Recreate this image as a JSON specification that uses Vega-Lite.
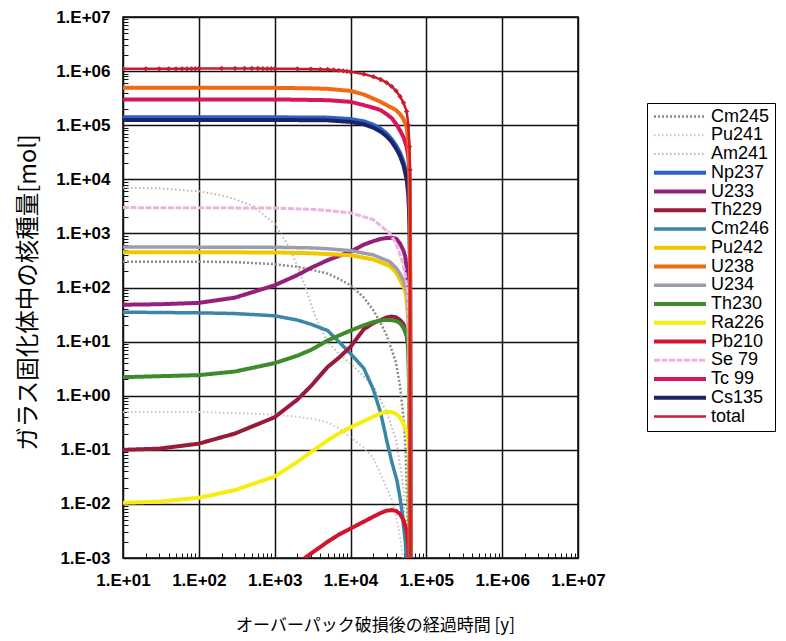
{
  "$schema": "https://vega.github.io/schema/vega-lite/v6.json",
  "width": 455,
  "height": 541,
  "autosize": {"type": "none"},
  "padding": {"left": 123, "top": 17, "right": 208, "bottom": 83},
  "background": "white",
  "config": {
    "view": {"stroke": "#000", "strokeWidth": 1.5},
    "font": "Liberation Sans"
  },
  "data": {
    "values": [
      {"s":"Cm245","t":10,"v":300},{"s":"Cm245","t":100,"v":300},{"s":"Cm245","t":300,"v":295},{"s":"Cm245","t":1000,"v":270},{"s":"Cm245","t":2000,"v":240},{"s":"Cm245","t":3000,"v":215},{"s":"Cm245","t":5000,"v":180},{"s":"Cm245","t":7000,"v":145},{"s":"Cm245","t":10000,"v":110},{"s":"Cm245","t":15000,"v":65},{"s":"Cm245","t":20000,"v":38},{"s":"Cm245","t":25000,"v":22},{"s":"Cm245","t":30000,"v":13},{"s":"Cm245","t":35000,"v":7},{"s":"Cm245","t":40000,"v":4},{"s":"Cm245","t":45000,"v":1.5},{"s":"Cm245","t":50000,"v":0.4},{"s":"Cm245","t":53000,"v":0.11},{"s":"Cm245","t":56000,"v":0.01},{"s":"Cm245","t":58000,"v":0.0001},
      {"s":"Pu241","t":10,"v":0.5},{"s":"Pu241","t":100,"v":0.5},{"s":"Pu241","t":1000,"v":0.45},{"s":"Pu241","t":3000,"v":0.38},{"s":"Pu241","t":5000,"v":0.32},{"s":"Pu241","t":7000,"v":0.25},{"s":"Pu241","t":10000,"v":0.17},{"s":"Pu241","t":15000,"v":0.11},{"s":"Pu241","t":20000,"v":0.07},{"s":"Pu241","t":27000,"v":0.028},{"s":"Pu241","t":35000,"v":0.012},{"s":"Pu241","t":41000,"v":0.005},{"s":"Pu241","t":46000,"v":0.002},{"s":"Pu241","t":50000,"v":0.0008},{"s":"Pu241","t":53000,"v":0.0001},
      {"s":"Am241","t":10,"v":7000},{"s":"Am241","t":30,"v":6800},{"s":"Am241","t":100,"v":6000},{"s":"Am241","t":200,"v":5000},{"s":"Am241","t":300,"v":4300},{"s":"Am241","t":500,"v":3300},{"s":"Am241","t":1000,"v":1500},{"s":"Am241","t":1500,"v":600},{"s":"Am241","t":2000,"v":250},{"s":"Am241","t":2500,"v":110},{"s":"Am241","t":3000,"v":50},{"s":"Am241","t":3500,"v":28},{"s":"Am241","t":4000,"v":18},{"s":"Am241","t":5000,"v":10},{"s":"Am241","t":7000,"v":6},{"s":"Am241","t":10000,"v":4},{"s":"Am241","t":20000,"v":1.5},{"s":"Am241","t":30000,"v":0.5},{"s":"Am241","t":40000,"v":0.15},{"s":"Am241","t":50000,"v":0.02},{"s":"Am241","t":55000,"v":0.0001},
      {"s":"Cm246","t":10,"v":35},{"s":"Cm246","t":100,"v":34},{"s":"Cm246","t":300,"v":33},{"s":"Cm246","t":1000,"v":30},{"s":"Cm246","t":2000,"v":25},{"s":"Cm246","t":3000,"v":21},{"s":"Cm246","t":5000,"v":16},{"s":"Cm246","t":7000,"v":10},{"s":"Cm246","t":10000,"v":6},{"s":"Cm246","t":15000,"v":3.2},{"s":"Cm246","t":20000,"v":1.3},{"s":"Cm246","t":25000,"v":0.48},{"s":"Cm246","t":30000,"v":0.15},{"s":"Cm246","t":35000,"v":0.06},{"s":"Cm246","t":41000,"v":0.027},{"s":"Cm246","t":45000,"v":0.013},{"s":"Cm246","t":48000,"v":0.0068},{"s":"Cm246","t":53000,"v":0.0019},{"s":"Cm246","t":56000,"v":0.0005},
      {"s":"U233","t":10,"v":48},{"s":"U233","t":30,"v":49},{"s":"U233","t":100,"v":52},{"s":"U233","t":300,"v":65},{"s":"U233","t":1000,"v":110},{"s":"U233","t":2000,"v":170},{"s":"U233","t":3000,"v":230},{"s":"U233","t":5000,"v":320},{"s":"U233","t":10000,"v":460},{"s":"U233","t":15000,"v":620},{"s":"U233","t":20000,"v":720},{"s":"U233","t":25000,"v":790},{"s":"U233","t":30000,"v":820},{"s":"U233","t":35000,"v":830},{"s":"U233","t":40000,"v":800},{"s":"U233","t":45000,"v":650},{"s":"U233","t":50000,"v":480},{"s":"U233","t":53000,"v":360},{"s":"U233","t":56000,"v":150},{"s":"U233","t":58000,"v":60},{"s":"U233","t":60000,"v":5},{"s":"U233","t":61000,"v":0.00001},
      {"s":"Th229","t":10,"v":0.1},{"s":"Th229","t":30,"v":0.105},{"s":"Th229","t":100,"v":0.13},{"s":"Th229","t":300,"v":0.2},{"s":"Th229","t":1000,"v":0.4},{"s":"Th229","t":2000,"v":0.85},{"s":"Th229","t":3000,"v":1.5},{"s":"Th229","t":5000,"v":3.4},{"s":"Th229","t":7000,"v":5},{"s":"Th229","t":10000,"v":8},{"s":"Th229","t":15000,"v":17},{"s":"Th229","t":20000,"v":22},{"s":"Th229","t":25000,"v":25},{"s":"Th229","t":30000,"v":28},{"s":"Th229","t":35000,"v":29},{"s":"Th229","t":40000,"v":28},{"s":"Th229","t":45000,"v":25},{"s":"Th229","t":50000,"v":21},{"s":"Th229","t":55000,"v":13},{"s":"Th229","t":58000,"v":8},{"s":"Th229","t":60000,"v":1.5},{"s":"Th229","t":61000,"v":0.00001},
      {"s":"Th230","t":10,"v":2.2},{"s":"Th230","t":100,"v":2.4},{"s":"Th230","t":300,"v":2.8},{"s":"Th230","t":1000,"v":4},{"s":"Th230","t":2000,"v":5.5},{"s":"Th230","t":3000,"v":7},{"s":"Th230","t":5000,"v":10.5},{"s":"Th230","t":10000,"v":16},{"s":"Th230","t":15000,"v":20},{"s":"Th230","t":20000,"v":23},{"s":"Th230","t":27000,"v":25},{"s":"Th230","t":35000,"v":25},{"s":"Th230","t":40000,"v":24},{"s":"Th230","t":45000,"v":22},{"s":"Th230","t":50000,"v":18},{"s":"Th230","t":56000,"v":12},{"s":"Th230","t":58000,"v":6},{"s":"Th230","t":60000,"v":0.5},{"s":"Th230","t":61000,"v":0.00001},
      {"s":"Ra226","t":10,"v":0.0105},{"s":"Ra226","t":30,"v":0.011},{"s":"Ra226","t":100,"v":0.013},{"s":"Ra226","t":300,"v":0.018},{"s":"Ra226","t":1000,"v":0.032},{"s":"Ra226","t":2000,"v":0.06},{"s":"Ra226","t":3000,"v":0.09},{"s":"Ra226","t":5000,"v":0.15},{"s":"Ra226","t":7000,"v":0.2},{"s":"Ra226","t":10000,"v":0.26},{"s":"Ra226","t":15000,"v":0.34},{"s":"Ra226","t":20000,"v":0.41},{"s":"Ra226","t":25000,"v":0.47},{"s":"Ra226","t":30000,"v":0.5},{"s":"Ra226","t":35000,"v":0.5},{"s":"Ra226","t":40000,"v":0.46},{"s":"Ra226","t":45000,"v":0.4},{"s":"Ra226","t":49000,"v":0.32},{"s":"Ra226","t":55000,"v":0.22},{"s":"Ra226","t":58000,"v":0.16},{"s":"Ra226","t":60000,"v":0.05},{"s":"Ra226","t":61000,"v":0.00001},
      {"s":"Pb210","t":1000,"v":0.0004},{"s":"Pb210","t":2000,"v":0.0008},{"s":"Pb210","t":3000,"v":0.0012},{"s":"Pb210","t":5000,"v":0.002},{"s":"Pb210","t":7000,"v":0.0027},{"s":"Pb210","t":10000,"v":0.0035},{"s":"Pb210","t":15000,"v":0.0047},{"s":"Pb210","t":20000,"v":0.0058},{"s":"Pb210","t":25000,"v":0.0068},{"s":"Pb210","t":30000,"v":0.0075},{"s":"Pb210","t":35000,"v":0.0077},{"s":"Pb210","t":40000,"v":0.0074},{"s":"Pb210","t":45000,"v":0.0065},{"s":"Pb210","t":50000,"v":0.005},{"s":"Pb210","t":55000,"v":0.0032},{"s":"Pb210","t":58000,"v":0.0016},{"s":"Pb210","t":60000,"v":0.0002},
      {"s":"Pu242","t":10,"v":450},{"s":"Pu242","t":1000,"v":445},{"s":"Pu242","t":3000,"v":430},{"s":"Pu242","t":5000,"v":415},{"s":"Pu242","t":10000,"v":395},{"s":"Pu242","t":20000,"v":330},{"s":"Pu242","t":33000,"v":250},{"s":"Pu242","t":40000,"v":190},{"s":"Pu242","t":45000,"v":140},{"s":"Pu242","t":50000,"v":105},{"s":"Pu242","t":54000,"v":75},{"s":"Pu242","t":58000,"v":25},{"s":"Pu242","t":60000,"v":3},{"s":"Pu242","t":61000,"v":0.00001},
      {"s":"U234","t":10,"v":560},{"s":"U234","t":1000,"v":555},{"s":"U234","t":3000,"v":540},{"s":"U234","t":5000,"v":520},{"s":"U234","t":10000,"v":480},{"s":"U234","t":20000,"v":400},{"s":"U234","t":33000,"v":300},{"s":"U234","t":40000,"v":230},{"s":"U234","t":45000,"v":180},{"s":"U234","t":50000,"v":135},{"s":"U234","t":56000,"v":80},{"s":"U234","t":58000,"v":30},{"s":"U234","t":60000,"v":3},{"s":"U234","t":61000,"v":0.00001},
      {"s":"Se 79","t":10,"v":3000},{"s":"Se 79","t":1000,"v":2950},{"s":"Se 79","t":3000,"v":2800},{"s":"Se 79","t":5000,"v":2650},{"s":"Se 79","t":10000,"v":2400},{"s":"Se 79","t":20000,"v":1800},{"s":"Se 79","t":33000,"v":1000},{"s":"Se 79","t":40000,"v":650},{"s":"Se 79","t":48000,"v":310},{"s":"Se 79","t":53000,"v":170},{"s":"Se 79","t":56000,"v":90},{"s":"Se 79","t":59000,"v":20},{"s":"Se 79","t":61000,"v":0.00001},
      {"s":"Np237","t":10,"v":140000},{"s":"Np237","t":1000,"v":140000},{"s":"Np237","t":5000,"v":138000},{"s":"Np237","t":10000,"v":130000},{"s":"Np237","t":15000,"v":118000},{"s":"Np237","t":20000,"v":102000},{"s":"Np237","t":25000,"v":86000},{"s":"Np237","t":30000,"v":70000},{"s":"Np237","t":35000,"v":55000},{"s":"Np237","t":40000,"v":42000},{"s":"Np237","t":45000,"v":31000},{"s":"Np237","t":50000,"v":21000},{"s":"Np237","t":55000,"v":12000},{"s":"Np237","t":58000,"v":7000},{"s":"Np237","t":60000,"v":2000},{"s":"Np237","t":61000,"v":300},{"s":"Np237","t":62000,"v":0.00001},
      {"s":"Cs135","t":10,"v":125000},{"s":"Cs135","t":1000,"v":125000},{"s":"Cs135","t":5000,"v":123000},{"s":"Cs135","t":10000,"v":115000},{"s":"Cs135","t":15000,"v":104000},{"s":"Cs135","t":20000,"v":90000},{"s":"Cs135","t":25000,"v":76000},{"s":"Cs135","t":30000,"v":62000},{"s":"Cs135","t":35000,"v":49000},{"s":"Cs135","t":40000,"v":37000},{"s":"Cs135","t":45000,"v":27000},{"s":"Cs135","t":50000,"v":18000},{"s":"Cs135","t":55000,"v":10000},{"s":"Cs135","t":58000,"v":5000},{"s":"Cs135","t":60000,"v":1500},{"s":"Cs135","t":61000,"v":200},{"s":"Cs135","t":62000,"v":0.00001},
      {"s":"Tc 99","t":10,"v":300000},{"s":"Tc 99","t":1000,"v":300000},{"s":"Tc 99","t":5000,"v":290000},{"s":"Tc 99","t":10000,"v":270000},{"s":"Tc 99","t":15000,"v":235000},{"s":"Tc 99","t":20000,"v":210000},{"s":"Tc 99","t":25000,"v":190000},{"s":"Tc 99","t":30000,"v":160000},{"s":"Tc 99","t":35000,"v":135000},{"s":"Tc 99","t":40000,"v":105000},{"s":"Tc 99","t":45000,"v":80000},{"s":"Tc 99","t":50000,"v":60000},{"s":"Tc 99","t":55000,"v":40000},{"s":"Tc 99","t":58000,"v":25000},{"s":"Tc 99","t":60000,"v":10000},{"s":"Tc 99","t":61000,"v":1000},{"s":"Tc 99","t":62000,"v":0.00001},
      {"s":"U238","t":10,"v":490000},{"s":"U238","t":1000,"v":490000},{"s":"U238","t":3000,"v":480000},{"s":"U238","t":5000,"v":470000},{"s":"U238","t":10000,"v":430000},{"s":"U238","t":15000,"v":370000},{"s":"U238","t":20000,"v":310000},{"s":"U238","t":25000,"v":270000},{"s":"U238","t":30000,"v":235000},{"s":"U238","t":35000,"v":210000},{"s":"U238","t":40000,"v":190000},{"s":"U238","t":45000,"v":160000},{"s":"U238","t":50000,"v":130000},{"s":"U238","t":55000,"v":90000},{"s":"U238","t":58000,"v":50000},{"s":"U238","t":60000,"v":12000},{"s":"U238","t":61000,"v":1000},{"s":"U238","t":62000,"v":0.00001},
      {"s":"total","t":10,"v":1100000},{"s":"total","t":20,"v":1100000},{"s":"total","t":30,"v":1100000},{"s":"total","t":40,"v":1100000},{"s":"total","t":50,"v":1100000},{"s":"total","t":60,"v":1100000},{"s":"total","t":70,"v":1100000},{"s":"total","t":80,"v":1100000},{"s":"total","t":90,"v":1100000},
      {"s":"total","t":100,"v":1120000},{"s":"total","t":200,"v":1120000},{"s":"total","t":300,"v":1120000},{"s":"total","t":400,"v":1120000},{"s":"total","t":500,"v":1120000},{"s":"total","t":600,"v":1120000},{"s":"total","t":700,"v":1110000},{"s":"total","t":800,"v":1110000},{"s":"total","t":900,"v":1110000},
      {"s":"total","t":1000,"v":1100000},{"s":"total","t":2000,"v":1100000},{"s":"total","t":3000,"v":1090000},{"s":"total","t":4000,"v":1080000},{"s":"total","t":5000,"v":1070000},{"s":"total","t":6000,"v":1050000},{"s":"total","t":7000,"v":1030000},{"s":"total","t":8000,"v":1010000},{"s":"total","t":9000,"v":990000},
      {"s":"total","t":10000,"v":970000},{"s":"total","t":15000,"v":880000},{"s":"total","t":20000,"v":790000},{"s":"total","t":25000,"v":700000},{"s":"total","t":30000,"v":610000},{"s":"total","t":35000,"v":520000},{"s":"total","t":40000,"v":430000},{"s":"total","t":45000,"v":340000},{"s":"total","t":50000,"v":260000},{"s":"total","t":55000,"v":180000},{"s":"total","t":58000,"v":100000},{"s":"total","t":60000,"v":40000},{"s":"total","t":61000,"v":15000},{"s":"total","t":62000,"v":0.00001}
    ]
  },
  "encoding": {
    "x": {
      "field": "t", "type": "quantitative",
      "scale": {"type": "log", "domain": [10, 10000000], "nice": false},
      "axis": {
        "values": [10,20,30,40,50,60,70,80,90,100,200,300,400,500,600,700,800,900,1000,2000,3000,4000,5000,6000,7000,8000,9000,10000,20000,30000,40000,50000,60000,70000,80000,90000,100000,200000,300000,400000,500000,600000,700000,800000,900000,1000000,2000000,3000000,4000000,5000000,6000000,7000000,8000000,9000000,10000000],
        "labelExpr": "abs(log(datum.value)/LN10 - round(log(datum.value)/LN10)) < 0.001 ? '1.E' + (datum.value >= 1 ? '+' : '-') + (abs(round(log(datum.value)/LN10)) < 10 ? '0' : '') + abs(round(log(datum.value)/LN10)) : ''",
        "grid": true,
        "gridColor": "#111",
        "gridWidth": 1.5,
        "gridOpacity": {"condition": {"test": "abs(log(datum.value)/LN10 - round(log(datum.value)/LN10)) < 0.001", "value": 1}, "value": 0},
        "domain": false,
        "ticks": true,
        "tickSize": -5,
        "tickColor": "#111",
        "tickOpacity": {"condition": {"test": "abs(log(datum.value)/LN10 - round(log(datum.value)/LN10)) < 0.001", "value": 0}, "value": 1},
        "labelFont": "Liberation Sans",
        "labelFontSize": 17,
        "labelFontWeight": "bold",
        "labelColor": "#000",
        "labelPadding": 19,
        "labelFlush": false,
        "labelOverlap": false,
        "title": "オーバーパック破損後の経過時間 [y]",
        "titleFont": "Noto Sans CJK JP",
        "titleFontSize": 17,
        "titleFontWeight": "normal",
        "titleColor": "#000",
        "titlePadding": 29,
        "titleX": 252
      }
    },
    "y": {
      "field": "v", "type": "quantitative",
      "scale": {"type": "log", "domain": [0.001, 10000000], "nice": false},
      "axis": {
        "values": [0.001,0.002,0.003,0.004,0.005,0.006,0.007,0.008,0.009,0.01,0.02,0.03,0.04,0.05,0.06,0.07,0.08,0.09,0.1,0.2,0.3,0.4,0.5,0.6,0.7,0.8,0.9,1,2,3,4,5,6,7,8,9,10,20,30,40,50,60,70,80,90,100,200,300,400,500,600,700,800,900,1000,2000,3000,4000,5000,6000,7000,8000,9000,10000,20000,30000,40000,50000,60000,70000,80000,90000,100000,200000,300000,400000,500000,600000,700000,800000,900000,1000000,2000000,3000000,4000000,5000000,6000000,7000000,8000000,9000000,10000000],
        "labelExpr": "abs(log(datum.value)/LN10 - round(log(datum.value)/LN10)) < 0.001 ? '1.E' + (datum.value >= 1 ? '+' : '-') + (abs(round(log(datum.value)/LN10)) < 10 ? '0' : '') + abs(round(log(datum.value)/LN10)) : ''",
        "grid": true,
        "gridColor": "#111",
        "gridWidth": 1.5,
        "gridOpacity": {"condition": {"test": "abs(log(datum.value)/LN10 - round(log(datum.value)/LN10)) < 0.001", "value": 1}, "value": 0},
        "domain": false,
        "ticks": true,
        "tickSize": -5,
        "tickColor": "#111",
        "tickOpacity": {"condition": {"test": "abs(log(datum.value)/LN10 - round(log(datum.value)/LN10)) < 0.001", "value": 0}, "value": 1},
        "labelFont": "Liberation Sans",
        "labelFontSize": 17,
        "labelFontWeight": "bold",
        "labelColor": "#000",
        "labelPadding": 18,
        "labelFlush": false,
        "labelOverlap": false,
        "title": "ガラス固化体中の核種量[mol]",
        "titleFont": "Noto Sans CJK JP",
        "titleFontSize": 23.5,
        "titleFontWeight": "normal",
        "titleColor": "#000",
        "titlePadding": 15,
        "titleY": 275
      }
    }
  },
  "layer": [
    {
      "mark": {"type": "line", "clip": true, "strokeJoin": "round"},
      "encoding": {
        "color": {
          "field": "s", "type": "nominal",
          "scale": {
            "domain": ["Cm245","Pu241","Am241","Np237","U233","Th229","Cm246","Pu242","U238","U234","Th230","Ra226","Pb210","Se 79","Tc 99","Cs135","total"],
            "range": ["#8a8a8a","#c6c6c6","#b8b8b8","#2a62c8","#94207a","#9a1a3a","#3a86a8","#f0c800","#f06a12","#9c9cac","#3e8a2c","#f6ee10","#d2142c","#eab4dc","#d8145c","#1c2468","#c41e30"]
          },
          "legend": {
            "title": null,
            "orient": "none",
            "legendX": 524,
            "legendY": 86,
            "direction": "vertical",
            "strokeColor": "#000",
            "fillColor": "#fff",
            "padding": 5,
            "symbolType": "stroke",
            "symbolSize": 2704,
            "symbolStrokeWidth": 4,
            "clipHeight": 17,
            "rowPadding": -0.25,
            "labelFont": "Liberation Sans",
            "labelFontSize": 18,
            "labelColor": "#000",
            "labelOffset": 3,
            "labelLimit": 200
          }
        },
        "strokeDash": {
          "field": "s", "type": "nominal",
          "scale": {
            "domain": ["Cm245","Pu241","Am241","Np237","U233","Th229","Cm246","Pu242","U238","U234","Th230","Ra226","Pb210","Se 79","Tc 99","Cs135","total"],
            "range": [[2,2],[1.5,2.5],[1.5,2.5],[1,0],[1,0],[1,0],[1,0],[1,0],[1,0],[1,0],[1,0],[1,0],[1,0],[6,1.5],[1,0],[1,0],[1,0]]
          },
          "legend": null
        },
        "strokeWidth": {
          "field": "s", "type": "nominal",
          "scale": {
            "type": "ordinal",
            "domain": ["Cm245","Pu241","Am241","Np237","U233","Th229","Cm246","Pu242","U238","U234","Th230","Ra226","Pb210","Se 79","Tc 99","Cs135","total"],
            "range": [2.5,2,2,4,4,4,3.5,4,4,3.5,4,4,4,3,4,4,2.5]
          }
        }
      }
    },
    {
      "transform": [{"filter": "datum.s === 'total' && datum.v > 1"}],
      "mark": {"type": "point", "shape": "diamond", "filled": true, "size": 28, "color": "#c41e30", "opacity": 1, "clip": true},
      "encoding": {}
    }
  ]
}
